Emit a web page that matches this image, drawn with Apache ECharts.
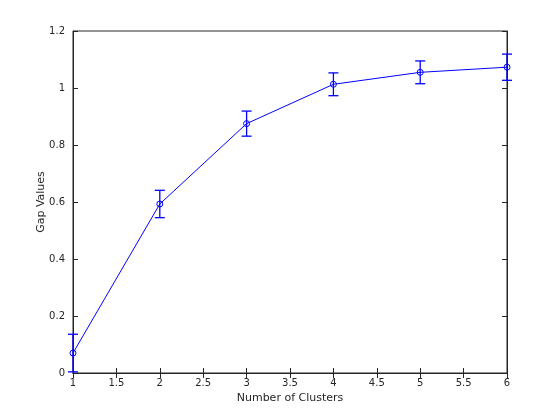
<!DOCTYPE html>
<html>
<head>
<meta charset="utf-8">
<script src="https://cdn.jsdelivr.net/npm/echarts@6/dist/echarts.min.js"></script>
<style>
  html,body{margin:0;padding:0;background:#fff;}
  #gap{width:560px;height:420px;}
</style>
</head>
<body>
<div id="gap"></div>
<script>
// gap statistic per cluster count
var clusters = [1, 2, 3, 4, 5, 6]
var gapVals = [0.070, 0.593, 0.875, 1.013, 1.055, 1.073]
var gapErr = [0.066, 0.048, 0.044, 0.040, 0.040, 0.046]

var lineData = clusters.map(function(k, i){
  return [k, gapVals[i]]
})
var errData = clusters.map(function(k, i){
  return [k, gapVals[i] - gapErr[i], gapVals[i] + gapErr[i]]
})

var txt = {color:'#262626', fontFamily:'DejaVu Sans', fontSize:10}
var nameTxt = {color:'#262626', fontFamily:'DejaVu Sans', fontSize:11}

var chart = echarts.init(document.getElementById('gap'))
var option = {
  animation:false,
  grid:{left:73, right:53, top:31, bottom:47, show:true, borderColor:'#262626', borderWidth:1},
  xAxis:[{
    type:'value', min:1, max:6, interval:0.5,
    name:'Number of Clusters', nameLocation:'middle', nameGap:20,
    nameMoveOverlap:false,
    nameTextStyle:nameTxt,
    axisLabel:Object.assign({margin:5}, txt),
    axisLine:{lineStyle:{color:'#262626'}},
    axisTick:{inside:true, length:5, lineStyle:{color:'#262626'}},
    splitLine:{show:false}
  },{
    type:'value', position:'top', min:1, max:6, interval:0.5,
    axisLabel:{show:false},
    axisLine:{lineStyle:{color:'#262626'}},
    axisTick:{inside:true, length:5, lineStyle:{color:'#262626'}},
    splitLine:{show:false}
  }],
  yAxis:[{
    type:'value', min:0, max:1.2, interval:0.2,
    name:'Gap Values', nameLocation:'middle', nameGap:26,
    nameMoveOverlap:false,
    nameTextStyle:nameTxt,
    axisLabel:Object.assign({margin:8}, txt),
    axisLine:{show:true, lineStyle:{color:'#262626'}},
    axisTick:{show:true, inside:true, length:5, lineStyle:{color:'#262626'}},
    splitLine:{show:false}
  },{
    type:'value', position:'right', min:0, max:1.2, interval:0.2,
    axisLabel:{show:false},
    axisLine:{show:true, lineStyle:{color:'#262626'}},
    axisTick:{show:true, inside:true, length:5, lineStyle:{color:'#262626'}},
    splitLine:{show:false}
  }],
  series:[{
    type:'line',
    data:lineData,
    symbol:'circle',
    symbolSize:6,
    lineStyle:{color:'#0000ff', width:1},
    itemStyle:{color:'rgba(0,0,0,0)', borderColor:'#0000ff', borderWidth:1},
    z:3
  },{
    type:'custom',
    data:errData,
    renderItem:function(params, api){
      var x = api.value(0)
      var lo = api.coord([x, api.value(1)])
      var hi = api.coord([x, api.value(2)])
      var half = 5
      var st = {stroke:'#0000ff', lineWidth:1.3}
      return {
        type:'group',
        children:[
          {type:'line', shape:{x1:lo[0], y1:lo[1], x2:hi[0], y2:hi[1]}, style:st},
          {type:'line', shape:{x1:lo[0]-half, y1:lo[1], x2:lo[0]+half, y2:lo[1]}, style:st},
          {type:'line', shape:{x1:hi[0]-half, y1:hi[1], x2:hi[0]+half, y2:hi[1]}, style:st}
        ]
      }
    },
    encode:{x:0, y:[1,2]},
    clip:false,
    z:4
  }]
}
chart.setOption(option)
</script>
</body>
</html>
